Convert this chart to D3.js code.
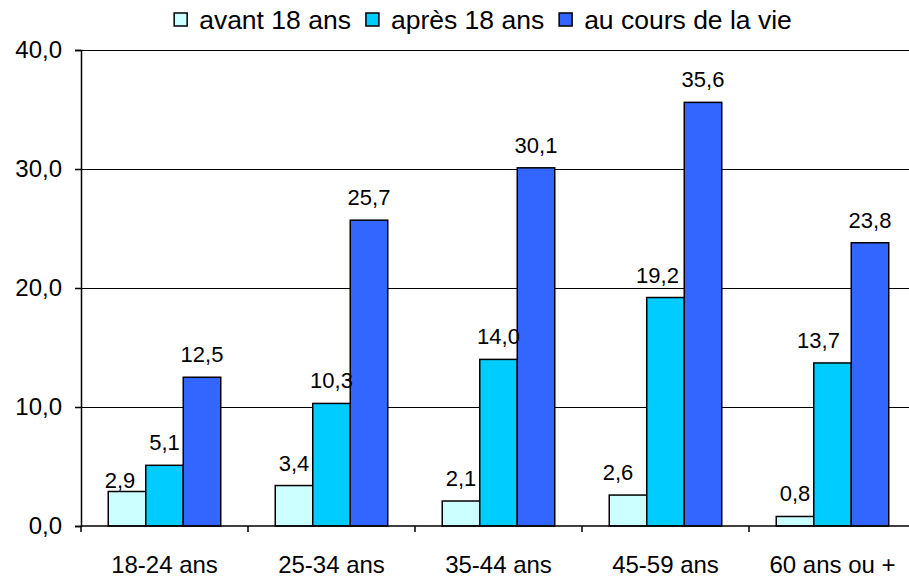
<!DOCTYPE html>
<html>
<head>
<meta charset="utf-8">
<script src="https://cdn.jsdelivr.net/npm/d3@7"></script>
<style>
  html, body { margin: 0; padding: 0; background: #fff; }
  svg { display: block; font-family: "Liberation Sans", Arial, sans-serif; }
</style>
</head>
<body>
<svg id="chart" width="909" height="580"></svg>
<script>
// Tranches d'âge et pourcentages par période
const categories = ["18-24 ans", "25-34 ans", "35-44 ans", "45-59 ans", "60 ans ou +"];
const seriesNames = ["avant 18 ans", "après 18 ans", "au cours de la vie"];
const avant18 = [2.9, 3.4, 2.1, 2.6, 0.8];
const apres18 = [5.1, 10.3, 14.0, 19.2, 13.7];
const coursVie = [12.5, 25.7, 30.1, 35.6, 23.8];
const yTicks = [0, 10, 20, 30, 40];

const colors = ["#CCFFFF", "#00CCFF", "#3366FF"];
const seriesValues = [avant18, apres18, coursVie];

// Étiquettes déplacées à la main : décalage [dx, dy] par "série|catégorie"
const labelNudge = {
  "0|0": [-7, 12],
  "0|3": [-10, 0],
  "1|3": [-8, 0],
  "1|4": [-14, 0]
};

const fmt = v => d3.format(".1f")(v).replace(".", ",");

const svg = d3.select("#chart");
const plotLeft = 81, plotRight = 916, plotTop = 50, plotBottom = 526;

const x = d3.scaleBand().domain(categories).range([plotLeft, plotRight]).paddingInner(0).paddingOuter(0);
const y = d3.scaleLinear().domain([0, 40]).range([plotBottom, plotTop]);
const barW = 37.5;
const xs = d3.scaleBand().domain(seriesNames)
  .range([(x.bandwidth() - 3 * barW) / 2, (x.bandwidth() + 3 * barW) / 2]).padding(0);

// Lignes de quadrillage horizontales
svg.append("g").selectAll("line").data(yTicks.filter(t => t > 0)).join("line")
  .attr("x1", plotLeft).attr("x2", 909)
  .attr("y1", d => y(d)).attr("y2", d => y(d))
  .attr("stroke", "#000").attr("stroke-width", 1).attr("shape-rendering", "crispEdges");

// Axe vertical
const yAxis = d3.axisLeft(y).tickValues(yTicks).tickSize(6).tickFormat(fmt);
const gy = svg.append("g").attr("transform", `translate(${plotLeft},0)`).call(yAxis);
gy.select(".domain").attr("stroke", "#000").attr("stroke-width", 1.5);
gy.selectAll(".tick line").attr("stroke", "#000").attr("stroke-width", 1.5);
gy.selectAll(".tick text").attr("x", -19).attr("font-size", 24).attr("fill", "#000")
  .attr("font-family", "Liberation Sans, Arial, sans-serif");

// Barres
const groups = svg.append("g").selectAll("g").data(categories).join("g")
  .attr("transform", d => `translate(${x(d)},0)`);
seriesNames.forEach((name, si) => {
  groups.append("rect")
    .attr("x", xs(name))
    .attr("width", xs.bandwidth())
    .attr("y", (d, i) => y(seriesValues[si][i]))
    .attr("height", (d, i) => y(0) - y(seriesValues[si][i]))
    .attr("fill", colors[si])
    .attr("stroke", "#000").attr("stroke-width", 1.5);
});

// Étiquettes de valeurs au-dessus des barres
const nudge = (si, i) => labelNudge[`${si}|${i}`] || [0, 0];
seriesNames.forEach((name, si) => {
  groups.append("text")
    .attr("x", (d, i) => xs(name) + xs.bandwidth() / 2 + nudge(si, i)[0])
    .attr("y", (d, i) => y(seriesValues[si][i]) - 15 + nudge(si, i)[1])
    .attr("text-anchor", "middle")
    .attr("font-size", 22)
    .text((d, i) => fmt(seriesValues[si][i]));
});

// Axe horizontal
svg.append("line").attr("x1", plotLeft).attr("x2", 909).attr("y1", plotBottom).attr("y2", plotBottom)
  .attr("stroke", "#000").attr("stroke-width", 1.5);
svg.append("g").selectAll("line").data(categories).join("line")
  .attr("x1", d => x(d)).attr("x2", d => x(d))
  .attr("y1", plotBottom).attr("y2", plotBottom + 6)
  .attr("stroke", "#000").attr("stroke-width", 1.5);
svg.append("g").selectAll("text").data(categories).join("text")
  .attr("x", d => x(d) + x.bandwidth() / 2)
  .attr("y", 573)
  .attr("text-anchor", "middle")
  .attr("font-size", 24)
  .text(d => d);

// Légende
const legend = svg.append("g");
const items = legend.selectAll("g").data(seriesNames).join("g");
items.append("rect").attr("width", 13).attr("height", 13).attr("y", 13)
  .attr("fill", (d, i) => colors[i]).attr("stroke", "#000").attr("stroke-width", 1.5);
items.append("text").attr("x", 25).attr("y", 29).attr("font-size", 26.5).text(d => d);
const widths = [];
items.each(function () {
  widths.push(d3.select(this).select("text").node().getComputedTextLength());
});
const total = widths.reduce((a, w) => a + 25 + w, 0) + 15 * (widths.length - 1);
let start = 483 - total / 2;
items.attr("transform", (d, i) => {
  const t = `translate(${start},0)`;
  start += 25 + widths[i] + 15;
  return t;
});
</script>
</body>
</html>
